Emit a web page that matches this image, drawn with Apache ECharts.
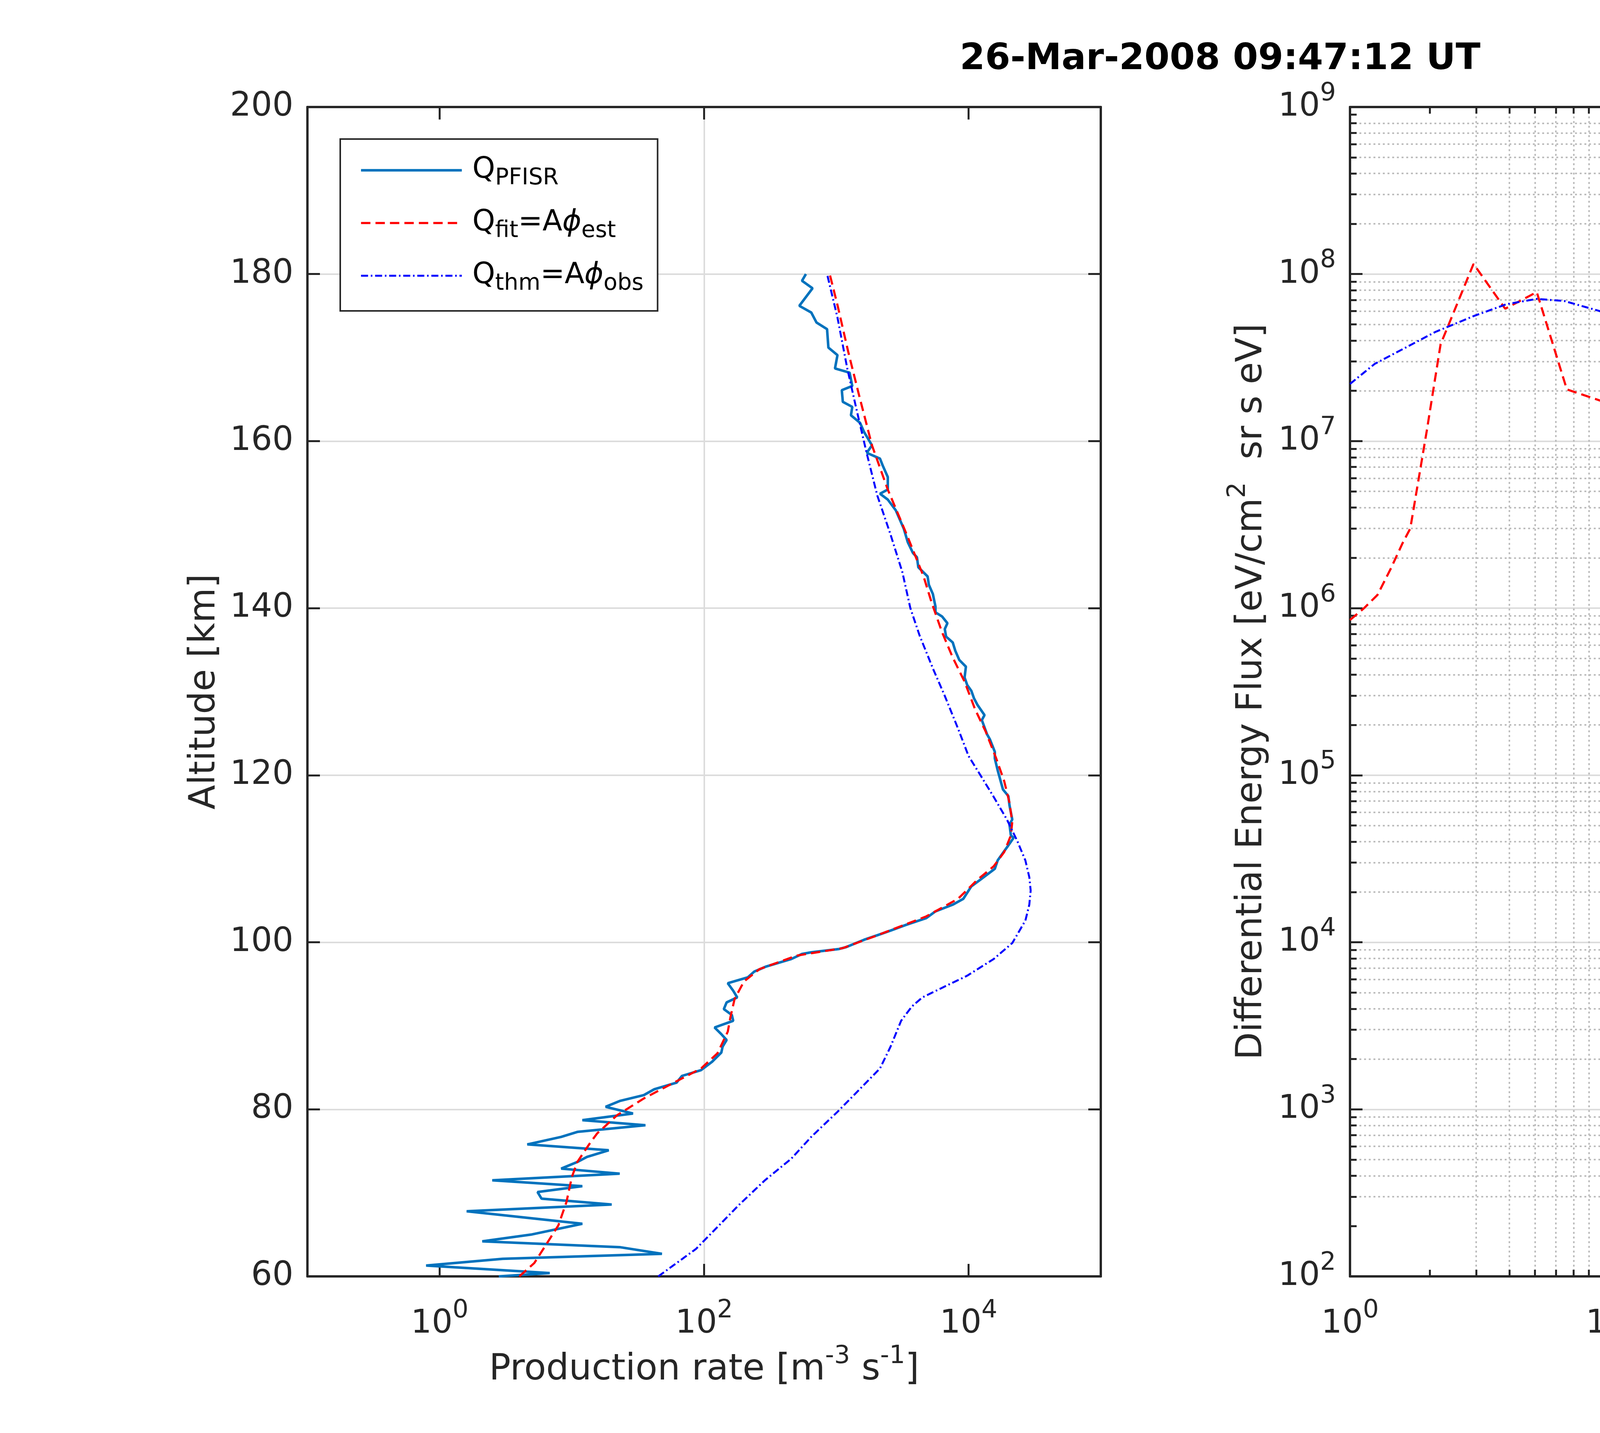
<!DOCTYPE html>
<html>
<head>
<meta charset="utf-8">
<title>Production rate and energy spectrum</title>
<script src="https://cdn.jsdelivr.net/npm/echarts@6/dist/echarts.min.js"></script>
<style>
  html, body { margin: 0; padding: 0; background: #fff; }
  #main { width: 6063px; height: 3669px; }
</style>
</head>
<body>
<div id="main"></div>
<script>
// ---- left panel: production rate profiles (altitude in km, rate in m^-3 s^-1)
var altPfisr = [60.0, 60.4, 61.3, 62.1, 62.7, 63.5, 64.2, 65.0, 66.3, 67.8, 68.6, 69.3, 70.1, 70.8, 71.5,
  72.3, 72.9, 73.7, 74.3, 75.1, 75.8, 76.7, 77.3, 78.1, 78.7, 79.5, 80.3, 81.0, 81.7, 82.4, 83.2, 84.0,
  84.7, 85.7, 86.8, 87.5, 88.3, 89.0, 89.8, 90.6, 91.3, 92.0, 92.8, 93.4, 94.2, 95.1, 95.8, 96.5, 97.1,
  98.0, 98.6, 98.8, 99.2, 99.4, 100.3, 100.9, 101.4, 102.1, 102.9, 103.7, 104.5, 105.2, 106.7, 107.5,
  108.8, 109.8, 110.9, 111.6, 112.5, 112.8, 114.1, 114.7, 116.4, 117.5, 118.3, 120.6, 122.0, 122.8,
  124.3, 124.9, 126.6, 127.2, 128.4, 129.2, 130.1, 130.8, 131.7, 133.0, 133.8, 134.9, 135.9, 136.6,
  137.5, 138.2, 139.0, 139.5, 140.2, 141.7, 142.8, 143.8, 144.9, 146.1, 146.6, 147.9, 149.5, 151.7,
  153.0, 153.7, 154.2, 155.7, 157.1, 157.9, 158.6, 159.5, 161.1, 162.2, 163.1, 164.1, 164.7, 166.1,
  166.6, 168.2, 168.7, 170.3, 171.2, 173.4, 174.2, 175.4, 176.2, 178.3, 179.2, 180.0];
var qPfisr = [2.8, 6.8, 0.79, 3.0, 48, 23, 2.1, 4.9, 12, 1.6, 20, 5.9, 5.5, 12, 2.5,
  23, 8.3, 11, 13, 19, 4.6, 8.3, 11, 36, 12, 29, 18, 23, 35, 42, 62, 68,
  95, 115, 135, 138, 148, 135, 120, 166, 162, 141, 148, 178, 166, 151, 214, 240, 295,
  457, 550, 646, 1050, 1175, 1620, 2090, 2570, 3390, 4790, 5620, 7590, 9120, 10500, 12300,
  15800, 16600, 18600, 20000, 21900, 20900, 20400, 21400, 20400, 20000, 18200, 16600, 15800, 15800,
  14500, 13800, 12600, 13200, 11700, 11000, 10500, 9770, 9330, 9550, 8510, 7940, 7590, 6760,
  6610, 6920, 6310, 5620, 5620, 5370, 5010, 4900, 4170, 4070, 3800, 3470, 3240, 2820,
  2450, 2140, 2450, 2450, 2240, 2140, 1700, 1860, 1620, 1510, 1290, 1320, 1120, 1100,
  1320, 1260, 977, 1020, 871, 851, 708, 646, 525, 661, 550, 589];

var altFit = [60, 61.6, 66.1, 68.9, 71.9, 73.7, 75.8, 77.1, 79.3, 81.3, 83.0, 84.9, 86.7, 89.3, 91.0,
  93.2, 95.3, 96.8, 98.4, 99.3, 100.9, 103.1, 105.2, 107.5, 109.1, 110.8, 112.8, 114.4, 116.7, 119.3,
  122.0, 125.2, 127.9, 131.2, 134.1, 137.1, 140.7, 143.8, 148.9, 154.2, 159.5, 165.6, 170.7, 176.3, 180];
var qFit = [4.0, 5.2, 7.9, 9.1, 10, 11, 13.5, 15.5, 22, 35, 56, 95, 126, 151, 158,
  170, 200, 263, 501, 1120, 2090, 4790, 8320, 11700, 15500, 18600, 20900, 21400, 20400, 18600,
  16200, 13500, 11200, 9330, 7590, 6310, 5250, 4570, 3390, 2450, 1860, 1480, 1230, 1020, 891];

var altThm = [60, 61.6, 63.3, 65.9, 68.5, 71.5, 74.1, 76.7, 79.7, 82.3, 84.9, 87.5, 90.6, 92.3, 93.4,
  94.4, 96.0, 98.0, 99.9, 102.6, 104.5, 106.2, 107.8, 109.8, 112.1, 114.7, 117.4, 120.0, 122.3, 125.6,
  129.5, 132.8, 136.7, 140.0, 144.3, 148.9, 153.5, 158.5, 163.6, 168.7, 174.8, 180];
var qThm = [45, 62, 87, 126, 182, 288, 457, 646, 1020, 1480, 2140, 2570, 3090, 3720, 4470,
  6030, 9770, 15500, 21400, 26900, 28800, 29500, 28800, 26900, 23400, 19500, 15500, 12300, 10000, 8320,
  6610, 5370, 4270, 3630, 3160, 2560, 2040, 1700, 1430, 1210, 1020, 851];

// ---- right panel: differential energy flux (energy in keV, flux in eV/cm^2 sr s eV)
var eFit = [1, 1.13, 1.27, 1.43, 1.58, 1.69, 1.95, 2.2, 2.93, 3.86, 5.08, 6.6, 8.9, 11.6, 12.2, 13.1,
  13.9, 14.9, 16.2, 17.7, 18.9, 19.7, 26.1, 30.8, 41.2, 51.2, 64, 98, 140, 200, 280, 403, 556, 724];
var phiFit = [8.5e5, 1.0e6, 1.2e6, 1.74e6, 2.45e6, 3.0e6, 1.15e7, 3.8e7, 1.15e8, 6.2e7, 7.8e7, 2.04e7,
  1.74e7, 5.1e6, 3.4e6, 1.74e6, 9.8e5, 4.8e5, 2.95e5, 1.82e5, 1.2e5, 8.3e4, 7.2e4, 2.6e4, 2.6e4, 3.2e4,
  2.3e4, 2.9e3, 980, 440, 280, 182, 190, 230];

var eThm = [1, 1.24, 2.1, 2.93, 3.9, 5.08, 6.45, 8.8, 11.6, 15.2, 20, 26.3, 31, 41, 65.6, 98, 140,
  204, 292, 403, 556, 724];
var phiThm = [2.2e7, 2.9e7, 4.5e7, 5.6e7, 6.6e7, 7.1e7, 6.9e7, 6.0e7, 4.7e7, 3.1e7, 1.66e7, 7.8e6,
  2.0e6, 9.5e5, 6.6e5, 3.0e5, 1.29e5, 6.2e4, 1.82e4, 5.2e3, 7.4e3, 3.2e3];

// tick values
var prodTicks = [1, 100, 10000];
var energyTicks = [1, 10, 100, 1000];
var fluxTicks = [1e2, 1e3, 1e4, 1e5, 1e6, 1e7, 1e8, 1e9];

function minorsOf(decades) {
  var out = [];
  for (var i = 0; i < decades.length - 1; i++) {
    for (var k = 2; k <= 9; k++) out.push(k * decades[i]);
  }
  return out;
}
var energyMinor = minorsOf(energyTicks);
var fluxMinor = minorsOf(fluxTicks);

function pairs(xs, ys) {
  return xs.map(function (x, i) { return [x, ys[i]]; });
}

var FONT = 'DejaVu Sans';
var ink = '#262626';
var gridColor = '#dcdcdc';
var minorColor = '#bdbdbd';

function logLabel(v) {
  return '{b|10}{s|' + Math.round(Math.log10(v)) + '}';
}
var supRich = {
  b: { fontSize: 84, lineHeight: 84, verticalAlign: 'bottom', color: ink, fontFamily: FONT },
  s: { fontSize: 64, lineHeight: 64, padding: [0, 0, 44, 0], verticalAlign: 'bottom', color: ink, fontFamily: FONT }
};
var nameRich = {
  n: { fontSize: 92, lineHeight: 92, verticalAlign: 'bottom', color: ink, fontFamily: FONT },
  s: { fontSize: 64, lineHeight: 64, padding: [0, 0, 49, 0], verticalAlign: 'bottom', color: ink, fontFamily: FONT }
};

// one frame side: line + ticks, optionally labels and grid lines
function side(gridIndex, type, pos, min, max, ticks, o) {
  o = o || {};
  var ax = {
    gridIndex: gridIndex, type: type, position: pos, min: min, max: max,
    axisLine: { show: !o.minor, onZero: false, lineStyle: { color: ink, width: 6 } },
    axisTick: { show: true, inside: true, length: o.minor ? 17 : 32, lineStyle: { color: ink, width: 5 } },
    axisLabel: { show: false },
    splitLine: { show: false }
  };
  if (ticks) ax.axisTick.customValues = ticks;
  if (o.interval) ax.interval = o.interval;
  if (o.labels) {
    ax.axisLabel = { show: true, margin: o.margin || 38 };
    if (ticks) ax.axisLabel.customValues = ticks;
    if (type === 'log') {
      ax.axisLabel.formatter = logLabel;
      ax.axisLabel.rich = supRich;
    } else {
      ax.axisLabel.fontSize = 85;
      ax.axisLabel.color = ink;
      ax.axisLabel.fontFamily = FONT;
    }
  }
  if (o.grid) {
    ax.splitLine = {
      show: true, showMinLine: false, showMaxLine: false,
      lineStyle: o.minor ? { color: minorColor, width: 4, type: [5, 7] } : { color: gridColor, width: 4 }
    };
  }
  if (o.name) {
    ax.name = o.name;
    ax.nameLocation = 'middle';
    ax.nameGap = o.nameGap;
    ax.nameTextStyle = { rich: nameRich, fontSize: 92, color: ink, fontFamily: FONT };
  }
  return ax;
}

var xAxes = [
  side(0, 'log', 'bottom', 0.1, 1e5, prodTicks, {
    labels: true, grid: true, margin: 80,
    name: '{n|Production rate [m}{s|-3}{n| s}{s|-1}{n|]}', nameGap: 194
  }),
  side(0, 'log', 'top', 0.1, 1e5, prodTicks),
  side(1, 'log', 'bottom', 1, 1000, energyTicks, {
    labels: true, grid: true, margin: 80, name: '{n|Energy [keV]}', nameGap: 182
  }),
  side(1, 'log', 'top', 1, 1000, energyTicks),
  side(1, 'log', 'bottom', 1, 1000, energyMinor, { minor: true, grid: true }),
  side(1, 'log', 'top', 1, 1000, energyMinor, { minor: true })
];

var yAxes = [
  side(0, 'value', 'left', 60, 200, null, {
    interval: 20, labels: true, grid: true, margin: 36,
    name: '{n|Altitude [km]}', nameGap: 216
  }),
  side(0, 'value', 'right', 60, 200, null, { interval: 20 }),
  side(1, 'log', 'left', 1e2, 1e9, fluxTicks, {
    labels: true, grid: true, margin: 36,
    name: '{n|Differential Energy Flux [eV/cm}{s|2}{n|  sr s eV]}', nameGap: 205
  }),
  side(1, 'log', 'right', 1e2, 1e9, fluxTicks),
  side(1, 'log', 'left', 1e2, 1e9, fluxMinor, { minor: true, grid: true }),
  side(1, 'log', 'right', 1e2, 1e9, fluxMinor, { minor: true })
];

var legendRich = {
  f: { fontSize: 74, lineHeight: 100, verticalAlign: 'middle', color: '#000', fontFamily: FONT, padding: [0, 0, 0, 22] },
  n: { fontSize: 74, lineHeight: 100, verticalAlign: 'middle', color: '#000', fontFamily: FONT },
  p: { fontSize: 74, lineHeight: 100, verticalAlign: 'middle', color: '#000', fontFamily: FONT, fontStyle: 'italic' },
  fp: { fontSize: 74, lineHeight: 100, verticalAlign: 'middle', color: '#000', fontFamily: FONT, fontStyle: 'italic', padding: [0, 0, 0, 22] },
  s: { fontSize: 58, lineHeight: 34, verticalAlign: 'bottom', color: '#000', fontFamily: FONT }
};
var legendText = {
  'Q_PFISR': '{f|Q}{s|PFISR}',
  'Q_fit': '{f|Q}{s|fit}{n|=A}{p|\u03d5}{s|est}',
  'Q_thm': '{f|Q}{s|thm}{n|=A}{p|\u03d5}{s|obs}',
  'phi_fit': '{fp|\u03d5}{s|fit}',
  'phi_thm': '{fp|\u03d5}{s|thm}'
};
function legendBox(left, names, lineLen, padRight) {
  return {
    left: left, top: 356, orient: 'vertical',
    data: names,
    itemWidth: lineLen, itemHeight: 100, itemGap: 45,
    padding: [40, padRight, 40, 50],
    borderColor: ink, borderWidth: 4, backgroundColor: '#fff',
    selectedMode: false,
    lineStyle: { width: 'inherit' },
    itemStyle: { color: 'rgba(0,0,0,0)', borderColor: 'rgba(0,0,0,0)', borderWidth: 0, opacity: 0 },
    formatter: function (name) { return legendText[name]; },
    textStyle: { rich: legendRich, fontSize: 74, fontFamily: FONT }
  };
}

var red = '#ff0000', blue = '#0000ff', pfisrBlue = '#0072bd';
var dashed = [24, 13], dashDot = [18, 7, 4, 7];

var option = {
  animation: false,
  backgroundColor: '#fff',
  textStyle: { fontFamily: FONT },
  title: {
    text: '26-Mar-2008 09:47:12 UT',
    left: 2452, top: 101,
    textStyle: { fontSize: 93, fontWeight: 'bold', color: '#000', fontFamily: FONT }
  },
  grid: [
    { left: 787, top: 274, width: 2031, height: 2994 },
    { left: 3456, top: 274, width: 2032, height: 2994 }
  ],
  xAxis: xAxes,
  yAxis: yAxes,
  legend: [
    legendBox(871, ['Q_PFISR', 'Q_fit', 'Q_thm'], 258, 36),
    legendBox(4884, ['phi_fit', 'phi_thm'], 262, 19)
  ],
  series: [
    { name: 'Q_PFISR', type: 'line', xAxisIndex: 0, yAxisIndex: 0, data: pairs(qPfisr, altPfisr),
      symbol: 'none', itemStyle: { color: pfisrBlue }, lineStyle: { color: pfisrBlue, width: 6.5 } },
    { name: 'Q_fit', type: 'line', xAxisIndex: 0, yAxisIndex: 0, data: pairs(qFit, altFit),
      symbol: 'none', itemStyle: { color: red }, lineStyle: { color: red, width: 5.5, type: dashed } },
    { name: 'Q_thm', type: 'line', xAxisIndex: 0, yAxisIndex: 0, data: pairs(qThm, altThm),
      symbol: 'none', itemStyle: { color: blue }, lineStyle: { color: blue, width: 5, type: dashDot } },
    { name: 'phi_fit', type: 'line', xAxisIndex: 2, yAxisIndex: 2, data: pairs(eFit, phiFit),
      symbol: 'none', itemStyle: { color: red }, lineStyle: { color: red, width: 5.5, type: dashed } },
    { name: 'phi_thm', type: 'line', xAxisIndex: 2, yAxisIndex: 2, data: pairs(eThm, phiThm),
      symbol: 'none', itemStyle: { color: blue }, lineStyle: { color: blue, width: 5, type: dashDot } }
  ]
};

var chart = echarts.init(document.getElementById('main'));
chart.setOption(option);
</script>
</body>
</html>
